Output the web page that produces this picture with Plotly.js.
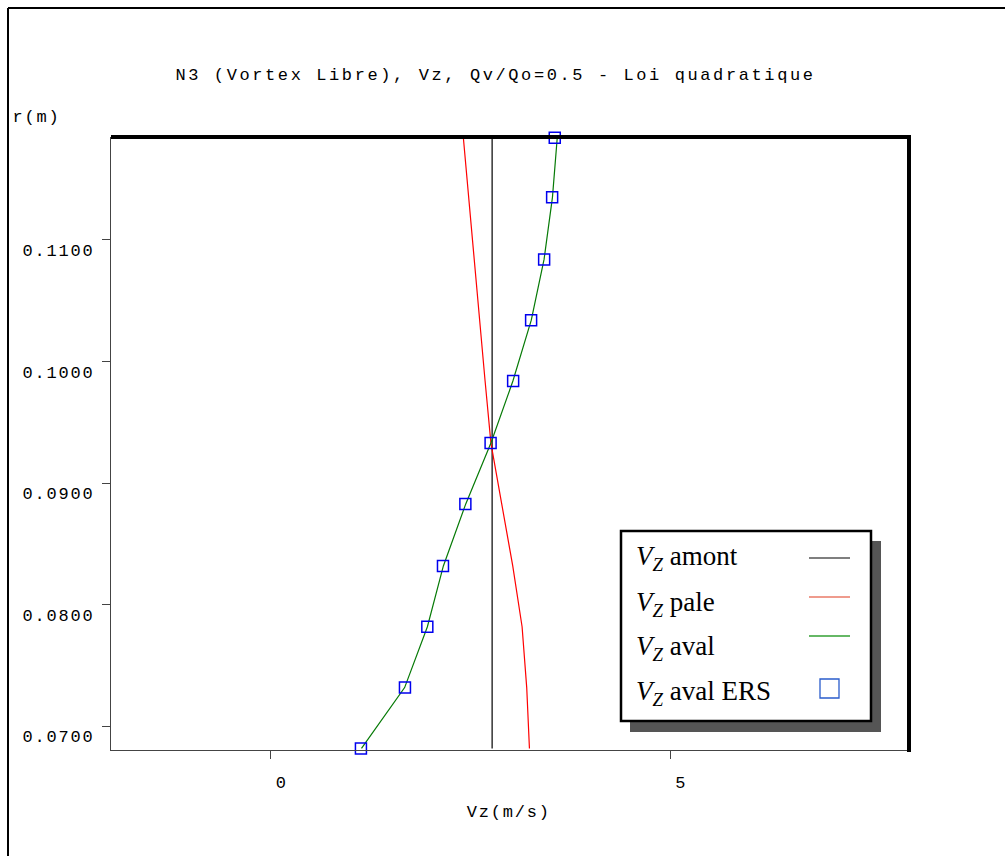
<!DOCTYPE html>
<html>
<head>
<meta charset="utf-8">
<script src="https://cdn.plot.ly/plotly-3.0.1.min.js"></script>
<style>
  html, body { margin: 0; padding: 0; background: #fff; }
  #chart { width: 1005px; height: 856px; }
</style>
</head>
<body>
<div id="chart"></div>
<script>
// ---- data ----
const r_m = [0.0682, 0.0732, 0.0782, 0.0832, 0.0883, 0.0933, 0.0984, 0.1034, 0.1084, 0.1135, 0.1184];
const vz_amont = [2.77, 2.77, 2.77, 2.77, 2.77, 2.77, 2.77, 2.77, 2.77, 2.77, 2.77];
const vz_pale = [3.237, 3.203, 3.145, 3.028, 2.890, 2.755, 2.682, 2.614, 2.548, 2.476, 2.410];
const vz_aval = [1.135, 1.675, 1.960, 2.160, 2.440, 2.755, 3.030, 3.260, 3.420, 3.525, 3.585];
const vz_aval_ers = [1.128, 1.679, 1.959, 2.155, 2.435, 2.751, 3.033, 3.258, 3.421, 3.521, 3.554];
const legendLabels = ['amont', 'pale', 'aval', 'aval ERS'];
const xTickVals = [0, 5];
const xTickText = ['0', '5'];
const yTickVals = [0.07, 0.08, 0.09, 0.10, 0.11];

const MONO = '"Liberation Mono", "DejaVu Sans Mono", monospace';
const SERIF = '"Liberation Serif", "DejaVu Serif", serif';

const traces = [
  {x: vz_amont, y: r_m, type: 'scatter', mode: 'lines', line: {color: '#000000', width: 1.2}, name: 'amont'},
  {x: vz_pale, y: r_m, type: 'scatter', mode: 'lines', line: {color: '#ff0000', width: 1.2}, name: 'pale'},
  {x: vz_aval, y: r_m, type: 'scatter', mode: 'lines', line: {color: '#067a06', width: 1.2}, name: 'aval'},
  {x: vz_aval_ers, y: r_m, type: 'scatter', mode: 'markers', cliponaxis: false,
   marker: {symbol: 'square-open', size: 11, color: '#0000ee', line: {width: 1.5, color: '#0000ee'}}, name: 'aval ERS'}
];

// pixel helpers for paper coordinates (plot area: x 111..910, y 137..750)
const L = 111, R = 910, T = 137, B = 750;
const px = v => (v - L) / (R - L);
const py = v => (B - v) / (B - T);

const shapes = [
  // figure frame (top and left)
  {type: 'line', xref: 'paper', yref: 'paper', x0: px(8), x1: px(1010), y0: py(8), y1: py(8), line: {color: '#000', width: 2}},
  {type: 'line', xref: 'paper', yref: 'paper', x0: px(8), x1: px(8), y0: py(8), y1: py(860), line: {color: '#000', width: 2}},
  // thick top and right plot borders
  {type: 'line', xref: 'paper', yref: 'paper', x0: 0, x1: px(911), y0: py(137), y1: py(137), line: {color: '#000', width: 4}},
  {type: 'line', xref: 'paper', yref: 'paper', x0: px(909), x1: px(909), y0: py(135), y1: py(752), line: {color: '#000', width: 4}},
  // legend shadow and box
  {type: 'rect', xref: 'paper', yref: 'paper', x0: px(630), x1: px(881), y0: py(541), y1: py(732), fillcolor: '#555555', line: {width: 0}},
  {type: 'rect', xref: 'paper', yref: 'paper', x0: px(621), x1: px(871), y0: py(531), y1: py(721), fillcolor: '#ffffff', line: {color: '#000', width: 2.5}},
  // legend samples
  {type: 'line', xref: 'paper', yref: 'paper', x0: px(809), x1: px(850), y0: py(558), y1: py(558), line: {color: '#000000', width: 1.2}},
  {type: 'line', xref: 'paper', yref: 'paper', x0: px(809), x1: px(850), y0: py(597), y1: py(597), line: {color: '#e0381c', width: 1.2}},
  {type: 'line', xref: 'paper', yref: 'paper', x0: px(809), x1: px(850), y0: py(636), y1: py(636), line: {color: '#33a033', width: 1.5}},
  {type: 'rect', xref: 'paper', yref: 'paper', x0: px(820), x1: px(839), y0: py(679), y1: py(698), line: {color: '#2a5ccc', width: 1.3}}
];

const legendY = [558, 604, 648, 693];
const annotations = legendLabels.map((lab, i) => ({
  xref: 'paper', yref: 'paper', x: px(634), y: py(legendY[i]), xanchor: 'left', yanchor: 'middle',
  text: '<i>V<sub>Z</sub></i> ' + lab, showarrow: false,
  font: {family: SERIF, size: 27, color: '#000'}
}));
annotations.push({
  xref: 'paper', yref: 'paper', x: px(14), y: py(117), xanchor: 'left', yanchor: 'middle',
  text: 'r(m)', showarrow: false, font: {family: MONO, size: 17, color: '#000'}
});
annotations.push({
  xref: 'paper', yref: 'paper', x: px(508), y: py(812), xanchor: 'center', yanchor: 'middle',
  text: 'Vz(m/s)', showarrow: false, font: {family: MONO, size: 17, color: '#000'}
});

const layout = {
  width: 1005, height: 856,
  margin: {l: L, r: 1005 - R, t: T, b: 856 - B, pad: 0},
  paper_bgcolor: '#ffffff', plot_bgcolor: '#ffffff',
  showlegend: false,
  title: {text: 'N3 (Vortex Libre), Vz, Qv/Qo=0.5 - Loi quadratique',
          font: {family: MONO, size: 17, color: '#000'},
          xref: 'container', yref: 'container', x: 495.5 / 1005, xanchor: 'center', y: 1 - 74 / 856, yanchor: 'middle'},
  xaxis: {range: [-2, 8], tickvals: xTickVals, ticktext: xTickText, ticks: 'outside', ticklen: 8, tickwidth: 1, tickcolor: '#444',
          showline: true, linecolor: '#444', linewidth: 1.2, showgrid: false, zeroline: false,
          tickfont: {family: MONO, size: 17, color: '#000'}, ticklabelshift: 11, ticklabelstandoff: 8},
  yaxis: {range: [0.06807, 0.11846], tickvals: yTickVals, tickformat: '.4f', ticks: 'outside', ticklen: 8, tickwidth: 1, tickcolor: '#444',
          showline: true, linecolor: '#444', linewidth: 1.2, showgrid: false, zeroline: false,
          tickfont: {family: MONO, size: 17, color: '#000'}, ticklabelshift: 10, ticklabelstandoff: 4},
  shapes: shapes,
  annotations: annotations
};

Plotly.newPlot('chart', traces, layout, {staticPlot: true, displayModeBar: false}).then(() => {
  document.querySelectorAll('#chart text').forEach(t => {
    const s = t.getAttribute('style') || '';
    if (s.indexOf('Liberation Mono') >= 0) {
      t.style.letterSpacing = t.classList.contains('gtitle') ? '2.6px' : '1.8px';
    }
  });
});
</script>
</body>
</html>
